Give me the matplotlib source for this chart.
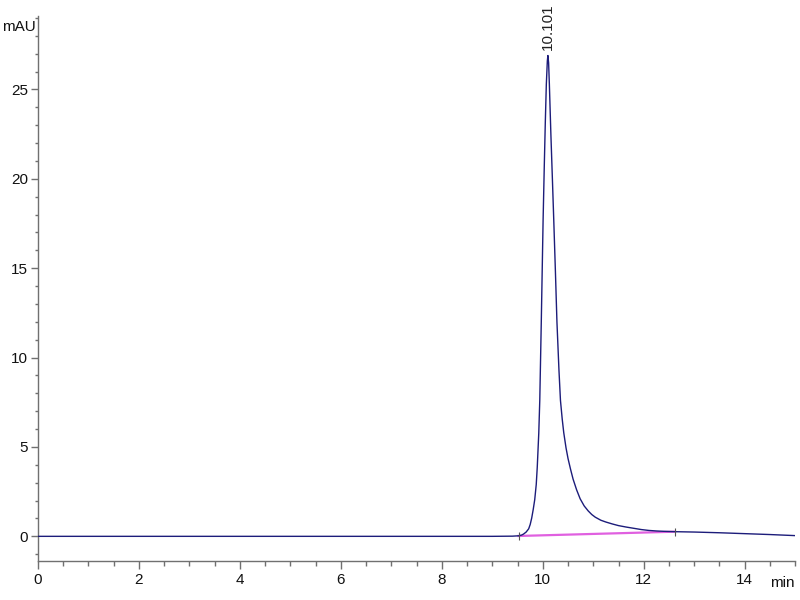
import matplotlib
matplotlib.use("Agg")
import matplotlib.pyplot as plt
from matplotlib.ticker import MultipleLocator

plt.rcParams['font.family'] = ['Liberation Sans Narrow', 'Liberation Sans', 'DejaVu Sans']

# Chromatogram trace (time in min, signal in mAU)
time_min = [0.0, 2.0, 4.0, 6.0, 8.0, 9.0, 9.4, 9.52, 9.58, 9.62, 9.67, 9.72, 9.75,
            9.78, 9.81, 9.84, 9.87, 9.89, 9.92, 9.94, 9.97, 10.006, 10.03, 10.05,
            10.07, 10.09, 10.101, 10.115, 10.13, 10.16, 10.19, 10.217, 10.25,
            10.28, 10.32, 10.35, 10.385, 10.415, 10.46, 10.5, 10.55, 10.6, 10.67,
            10.74, 10.82, 10.9, 10.97, 11.04, 11.15, 11.25, 11.38, 11.5, 11.65,
            11.8, 11.95, 12.1, 12.25, 12.4, 12.62, 13.0, 13.5, 14.0, 14.5, 15.0]
signal_mau = [0.0, 0.0, 0.0, 0.0, 0.0, 0.0, 0.01, 0.03, 0.07, 0.13, 0.24, 0.42, 0.66,
              1.02, 1.5, 2.05, 2.9, 3.86, 5.76, 7.6, 12.0, 17.7, 20.8, 23.2,
              25.3, 26.6, 26.9, 26.5, 25.3, 22.5, 20.0, 17.7, 14.8,
              12.0, 9.3, 7.6, 6.55, 5.8, 4.95, 4.35, 3.75, 3.2, 2.6,
              2.1, 1.7, 1.42, 1.22, 1.07, 0.9, 0.8, 0.69, 0.6, 0.52,
              0.45, 0.38, 0.33, 0.3, 0.28, 0.26, 0.24, 0.2, 0.15, 0.1, 0.04]

# Integration baseline
baseline_time = [9.52, 12.62]
baseline_mau = [0.02, 0.26]

peak_rt = 10.101
peak_height = 26.9
peak_label = "10.101"

fig = plt.figure(figsize=(8, 6), dpi=100)
ax = fig.add_axes([0.0475, 0.065, 0.9465, 0.908])

ax.plot(time_min, signal_mau, color='#1c1c7a', lw=1.0, zorder=3)
ax.plot(baseline_time, baseline_mau, color='#e060e0', lw=1.6, zorder=2)
ax.plot(baseline_time, baseline_mau, ls='none', marker='|', ms=6,
        color='#555555', mew=0.8, zorder=4)
ax.text(peak_rt, peak_height + 0.3, peak_label, rotation=90, ha='center',
        va='bottom', fontsize=11, color='#222222')

ax.set_xlim(0, 15)
ax.set_ylim(-1.38, 29.1)
ax.xaxis.set_major_locator(MultipleLocator(2))
ax.xaxis.set_minor_locator(MultipleLocator(0.5))
ax.yaxis.set_major_locator(MultipleLocator(5))
ax.yaxis.set_minor_locator(MultipleLocator(1))

for s in ['top', 'right']:
    ax.spines[s].set_visible(False)
for s in ['left', 'bottom']:
    ax.spines[s].set_color('#707070')
    ax.spines[s].set_linewidth(1.0)

ax.tick_params(axis='x', which='major', length=6, width=1, color='#707070',
               labelsize=11, pad=3, labelcolor='#111111')
ax.tick_params(axis='x', which='minor', length=3.5, width=1, color='#707070')
ax.tick_params(axis='y', which='major', length=5, width=1, color='#707070',
               labelsize=11, pad=2, labelcolor='#111111')
ax.tick_params(axis='y', which='minor', length=2.5, width=1, color='#707070')

fig.text(19 / 800, 1 - 27 / 600, 'mAU', ha='center', va='center',
         fontsize=11, color='#111111')
fig.text(795 / 800, 1 - 583 / 600, 'min', ha='right', va='center',
         fontsize=11, color='#111111')

fig.savefig('out.png', dpi=100, facecolor='white')
